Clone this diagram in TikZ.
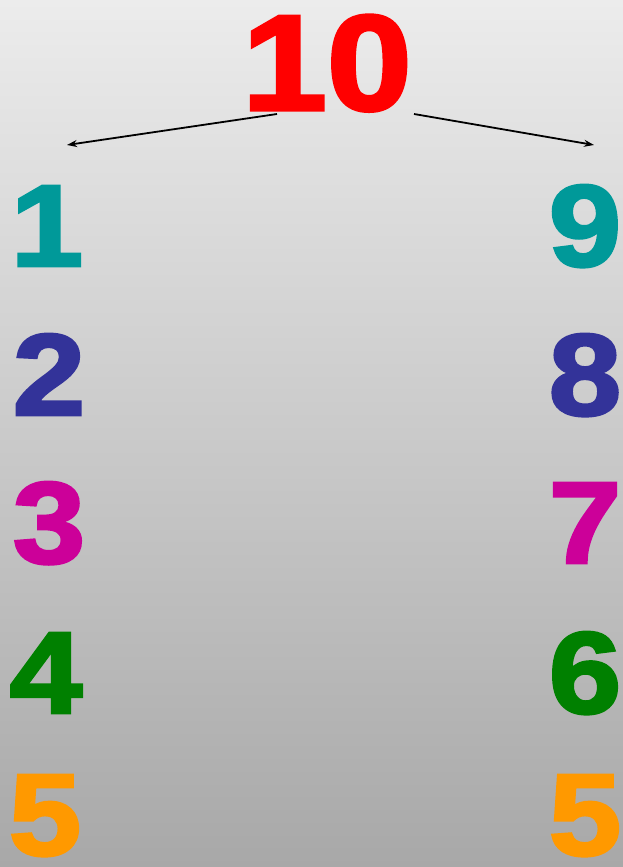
\documentclass[tikz,border=0pt]{standalone}
\usepackage{fontspec}
\setmainfont{Liberation Sans}
\newfontfamily\heavy[FakeBold=2.5]{Liberation Sans Bold}
\usetikzlibrary{arrows.meta}
\definecolor{cred}{HTML}{FF0000}
\definecolor{cteal}{HTML}{009999}
\definecolor{cblue}{HTML}{333399}
\definecolor{cmag}{HTML}{CC0099}
\definecolor{cgreen}{HTML}{008000}
\definecolor{corange}{HTML}{FF9900}
\newcommand{\wide}[1]{\scalebox{1.12}[1]{#1}}
\tikzset{
  num/.style={inner sep=0pt, anchor=base, text depth=0pt, font=\heavy\fontsize{116}{116}\selectfont},
  big/.style={inner sep=0pt, anchor=base, text depth=0pt, font=\heavy\fontsize{136}{136}\selectfont},
  arr/.style={-{Stealth[length=10pt,width=7pt]}, line width=1.8pt, black}
}
\begin{document}
\begin{tikzpicture}[x=1pt,y=-1pt]
\shade[top color={rgb,255:red,236;green,236;blue,236}, bottom color={rgb,255:red,168;green,168;blue,168}] (0,0) rectangle (623,867);
\useasboundingbox (0,0) rectangle (623,867);
\node[big, text=cred] (ten) at (327,110) {\wide{10}};
\node[num, text=cteal] (l1) at (47,266) {\wide{1}};
\node[num, text=cblue] (l2) at (49,415) {\wide{2}};
\node[num, text=cmag] (l3) at (49,563) {\wide{3}};
\node[num, text=cgreen] (l4) at (46,713) {\wide{4}};
\node[num, text=corange] (l5) at (45,855) {\wide{5}};
\node[num, text=cteal] (r9) at (585,266) {\wide{9}};
\node[num, text=cblue] (r8) at (585,415) {\wide{8}};
\node[num, text=cmag] (r7) at (585,563) {\wide{7}};
\node[num, text=cgreen] (r6) at (585,713) {\wide{6}};
\node[num, text=corange] (r5) at (585,855) {\wide{5}};
\coordinate (ls) at (277,114);
\coordinate (le) at (67,145);
\coordinate (rs) at (414,114);
\coordinate (re) at (594,145);
\draw[arr] (ls) -- (le);
\draw[arr] (rs) -- (re);
\end{tikzpicture}
\end{document}
